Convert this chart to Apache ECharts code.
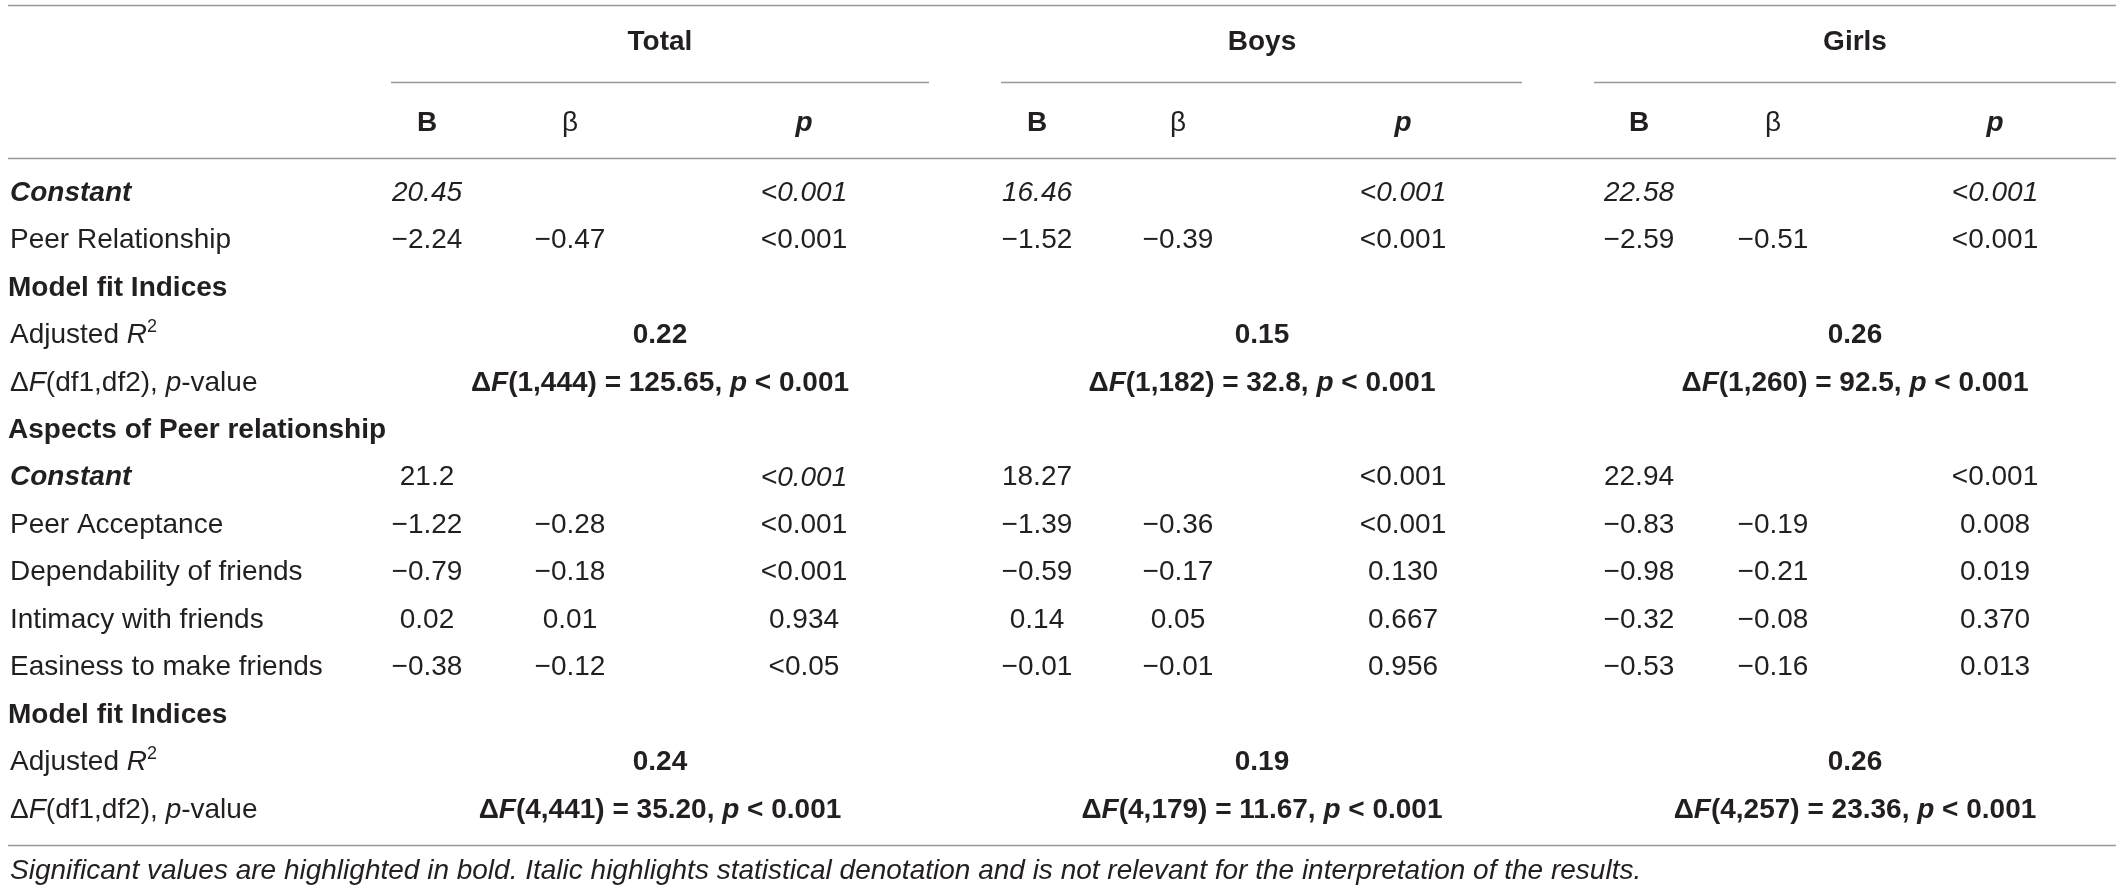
<!DOCTYPE html>
<html><head><meta charset="utf-8">
<script src="https://cdn.jsdelivr.net/npm/echarts@6/dist/echarts.min.js"></script>
<style>html,body{margin:0;padding:0;background:#fff}#c{width:2122px;height:893px}</style>
</head><body><div id="c"></div>
<script>
// ---------------- DATA ----------------
const groups = ['Total', 'Boys', 'Girls'];
const colHeads = ['B', 'β', 'p'];
const rowLabels = ['Constant', 'Peer Relationship', 'Model fit Indices', 'Adjusted R2', 'ΔF(df1,df2), p-value',
  'Aspects of Peer relationship', 'Constant', 'Peer Acceptance', 'Dependability of friends',
  'Intimacy with friends', 'Easiness to make friends', 'Model fit Indices', 'Adjusted R2', 'ΔF(df1,df2), p-value'];
const totalB  = ['20.45', '−2.24', null, null, null, null, '21.2',  '−1.22', '−0.79', '0.02',  '−0.38', null, null, null];
const totalBeta = [null,  '−0.47', null, null, null, null, null,    '−0.28', '−0.18', '0.01',  '−0.12', null, null, null];
const totalP  = ['<0.001', '<0.001', null, null, null, null, '<0.001', '<0.001', '<0.001', '0.934', '<0.05', null, null, null];
const boysB   = ['16.46', '−1.52', null, null, null, null, '18.27', '−1.39', '−0.59', '0.14',  '−0.01', null, null, null];
const boysBeta = [null,   '−0.39', null, null, null, null, null,    '−0.36', '−0.17', '0.05',  '−0.01', null, null, null];
const boysP   = ['<0.001', '<0.001', null, null, null, null, '<0.001', '<0.001', '0.130', '0.667', '0.956', null, null, null];
const girlsB  = ['22.58', '−2.59', null, null, null, null, '22.94', '−0.83', '−0.98', '−0.32', '−0.53', null, null, null];
const girlsBeta = [null,  '−0.51', null, null, null, null, null,    '−0.19', '−0.21', '−0.08', '−0.16', null, null, null];
const girlsP  = ['<0.001', '<0.001', null, null, null, null, '<0.001', '0.008', '0.019', '0.370', '0.013', null, null, null];
const adjR2Model1 = ['0.22', '0.15', '0.26'];
const adjR2Model2 = ['0.24', '0.19', '0.26'];
const dfModel1 = ['1,444', '1,182', '1,260'];
const fModel1  = ['125.65', '32.8', '92.5'];
const dfModel2 = ['4,441', '4,179', '4,257'];
const fModel2  = ['35.20', '11.67', '23.36'];
const pModel   = '0.001';
const footnote = 'Significant values are highlighted in bold. Italic highlights statistical denotation and is not relevant for the interpretation of the results.';

// ---------------- LAYOUT / STYLE ----------------
const ROW0_Y = 193, ROW_H = 47.46, H = 893, W = 2122;
const rowOf = y => (y - ROW0_Y) / ROW_H;
const colX = [[427, 570, 804], [1037, 1178, 1403], [1639, 1773, 1995]];
const groupX = [660, 1262, 1855];
const groupSpan = [[391, 929], [1001, 1522], [1594, 2116]];
const LABEL_X = 10, SECTION_X = 8;
const FONT = 'Liberation Sans, Arial, Helvetica, sans-serif';
const FS = 28, TXT = '#231f20', RULE = '#999999';
const rowKinds = ['const', 'plain', 'section', 'r2', 'df', 'section', 'const', 'plain', 'plain', 'plain', 'plain', 'section', 'r2', 'df'];

function st(w, s, size) {
  return { fontFamily: FONT, fontSize: size || FS, fontWeight: w, fontStyle: s, fill: TXT };
}
const RICH = {
  n: st('normal', 'normal'),
  i: st('normal', 'italic'),
  b: st('bold', 'normal'),
  bi: st('bold', 'italic'),
  sup: Object.assign(st('normal', 'normal', 18), { lineHeight: 18, verticalAlign: 'top' })
};

// ---------------- CELLS ----------------
const cells = [];
function addCell(x, row, text, style, align) {
  cells.push({ x: x, row: row, text: text, style: style, align: align || 'center' });
}
groups.forEach((g, gi) => {
  addCell(groupX[gi], rowOf(42), g, 'b');
  colHeads.forEach((h, ci) => addCell(colX[gi][ci], rowOf(123), h, ci === 0 ? 'b' : (ci === 1 ? 'n' : 'bi')));
});
rowLabels.forEach((lab, r) => {
  const k = rowKinds[r];
  if (k === 'const') addCell(LABEL_X, r, lab, 'bi', 'left');
  else if (k === 'section') addCell(SECTION_X, r, lab, 'b', 'left');
  else if (k === 'r2') addCell(LABEL_X, r, 'Adjusted {i|R}{sup|2}', 'n', 'left');
  else if (k === 'df') addCell(LABEL_X, r, 'Δ{i|F}(df1,df2), {i|p}-value', 'n', 'left');
  else addCell(LABEL_X, r, lab, 'n', 'left');
});
const valueCols = [[totalB, totalBeta, totalP], [boysB, boysBeta, boysP], [girlsB, girlsBeta, girlsP]];
valueCols.forEach((cols, gi) => cols.forEach((arr, ci) => arr.forEach((v, r) => {
  if (v == null) return;
  let italic = false;
  if (r === 0) italic = (ci !== 1);
  if (r === 6 && gi === 0 && ci === 2) italic = true;
  addCell(colX[gi][ci], r, v, italic ? 'i' : 'n');
})));
groups.forEach((g, gi) => {
  addCell(groupX[gi], 3, adjR2Model1[gi], 'b');
  addCell(groupX[gi], 12, adjR2Model2[gi], 'b');
  addCell(groupX[gi], 4, `{b|Δ}{bi|F}{b|(${dfModel1[gi]}) = ${fModel1[gi]}, }{bi|p}{b| < ${pModel}}`, 'b');
  addCell(groupX[gi], 13, `{b|Δ}{bi|F}{b|(${dfModel2[gi]}) = ${fModel2[gi]}, }{bi|p}{b| < ${pModel}}`, 'b');
});
addCell(LABEL_X, rowOf(871), footnote, 'fn', 'left');

// ---------------- RULES ----------------
const rules = [
  [8, rowOf(5), 2116, rowOf(5)],
  [8, rowOf(158), 2116, rowOf(158)],
  [8, rowOf(845), 2116, rowOf(845)]
].concat(groupSpan.map(s => [s[0], rowOf(82), s[1], rowOf(82)]));

const chart = echarts.init(document.getElementById('c'), null, { renderer: 'canvas' });
chart.setOption({
  animation: false,
  backgroundColor: '#ffffff',
  grid: { left: 0, right: 0, top: 0, bottom: 0 },
  xAxis: { type: 'value', min: 0, max: W, show: false },
  yAxis: { type: 'value', min: rowOf(0), max: rowOf(H), inverse: true, show: false },
  series: [
    {
      type: 'custom', silent: true, clip: false,
      data: rules,
      encode: { x: [0, 2], y: [1, 3] },
      renderItem: (params, api) => {
        const p1 = api.coord([api.value(0), api.value(1)]);
        const p2 = api.coord([api.value(2), api.value(3)]);
        return { type: 'line', shape: { x1: p1[0], y1: Math.round(p1[1]) + 0.5, x2: p2[0], y2: Math.round(p2[1]) + 0.5 },
          style: { stroke: RULE, lineWidth: 1.6 } };
      }
    },
    {
      type: 'custom', silent: true, clip: false,
      data: cells.map((c, i) => [c.x, c.row, i]),
      encode: { x: 0, y: 1 },
      renderItem: (params, api) => {
        const c = cells[api.value(2)];
        const p = api.coord([api.value(0), api.value(1)]);
        let base;
        if (c.style === 'fn') base = st('normal', 'italic', 28);
        else base = Object.assign({}, RICH[c.style]);
        return { type: 'text', x: p[0], y: p[1],
          style: Object.assign(base, { text: c.text, rich: RICH, align: c.align, verticalAlign: 'middle', lineHeight: 34 }) };
      }
    }
  ]
});
</script></body></html>
